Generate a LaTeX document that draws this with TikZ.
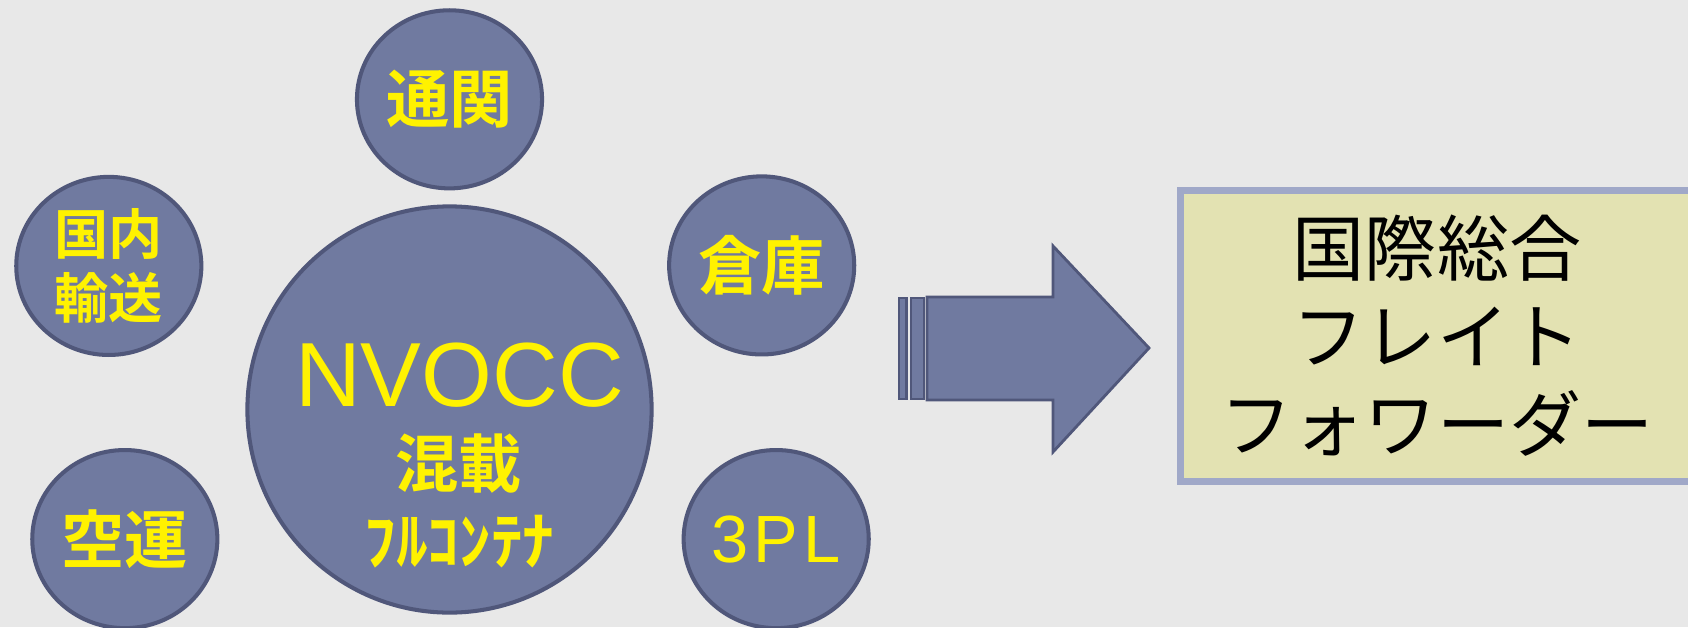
\documentclass[tikz,border=0pt]{standalone}
\usepackage{fontspec}
\setmainfont{Liberation Sans}
\newfontfamily\jpfont{Noto Sans CJK JP}[BoldFont={Noto Sans CJK JP Bold}]
\usetikzlibrary{positioning,shapes.geometric}
\definecolor{bggray}{RGB}{232,232,232}
\definecolor{ballblue}{RGB}{112,122,160}
\definecolor{balledge}{RGB}{80,87,122}
\definecolor{boxfill}{RGB}{227,226,178}
\definecolor{boxedge}{RGB}{160,168,200}

\begin{document}
\begin{tikzpicture}[x=0.01cm,y=-0.01cm]
    \fill[bggray] (0,0) rectangle (1688,627);
    \useasboundingbox (0,0) rectangle (1688,627);
    \begin{scope}[on grid, text centered,
    		ball/.style={ellipse,draw=balledge,fill=ballblue,line width=1.15pt,inner sep=0pt,
    		  minimum width=1.85cm,minimum height=1.78cm,text=yellow,
    		  font=\jpfont\bfseries\fontsize{18}{22}\selectfont},
    		ytext/.style={text=yellow,inner sep=0pt},
    		arrowpart/.style={draw=balledge,fill=ballblue,line width=0.8pt},
    		fwdbox/.style={rectangle,draw=boxedge,fill=boxfill,line width=2pt,
    		  minimum width=5.13cm,minimum height=2.91cm,align=center,
    		  font=\jpfont\fontsize{20.5}{25}\selectfont}]

    \node[ball] (nvocc) [minimum width=4.04cm, minimum height=4.06cm] at (449.5,409.5) {};
    \node[ball] (tsukan) [above=3.1cm of nvocc] {通関};
    \node[ball] (kokunai) [above left=1.435cm and 3.405cm of nvocc, align=center,
      font=\jpfont\bfseries\fontsize{15.4}{18.2}\selectfont] {国内\\輸送};
    \node[ball] (souko) [above right=1.44cm and 3.12cm of nvocc] {倉庫};
    \node[ball] (kuuun) [below left=1.295cm and 3.245cm of nvocc] {空運};
    \node[ball] (tpl) [below right=1.295cm and 3.265cm of nvocc,
      font=\fontsize{19}{22}\selectfont] {3\kern1.5pt P\kern1.5pt L};

    \node[ytext] (nvname) [above=0.345cm of nvocc, xshift=0.1cm,
      font=\fontsize{25.9}{30}\selectfont] {NVOCC};
    \node[ytext] (konsai) [below=0.535cm of nvocc, xshift=0.09cm,
      font=\jpfont\bfseries\fontsize{18}{22}\selectfont] {混載};
    \node[ytext] (fullcon) [below=1.325cm of nvocc, xshift=0.1cm,
      font=\jpfont\bfseries\fontsize{18}{22}\selectfont] {ﾌﾙｺﾝﾃﾅ};

    % block arrow
    \filldraw[arrowpart] (899,298) rectangle (906.5,399);
    \filldraw[arrowpart] (911,298) rectangle (924,399);
    \filldraw[arrowpart] (927,297) -- (1053,297) -- (1053,246) -- (1149,348)
      -- (1053,452) -- (1053,400) -- (927,400) -- cycle;

    \node[fwdbox] (fwd) at (1437,336) {国際総合\\フレイト\\フォワーダー};

    \end{scope}
\end{tikzpicture}
\end{document}
